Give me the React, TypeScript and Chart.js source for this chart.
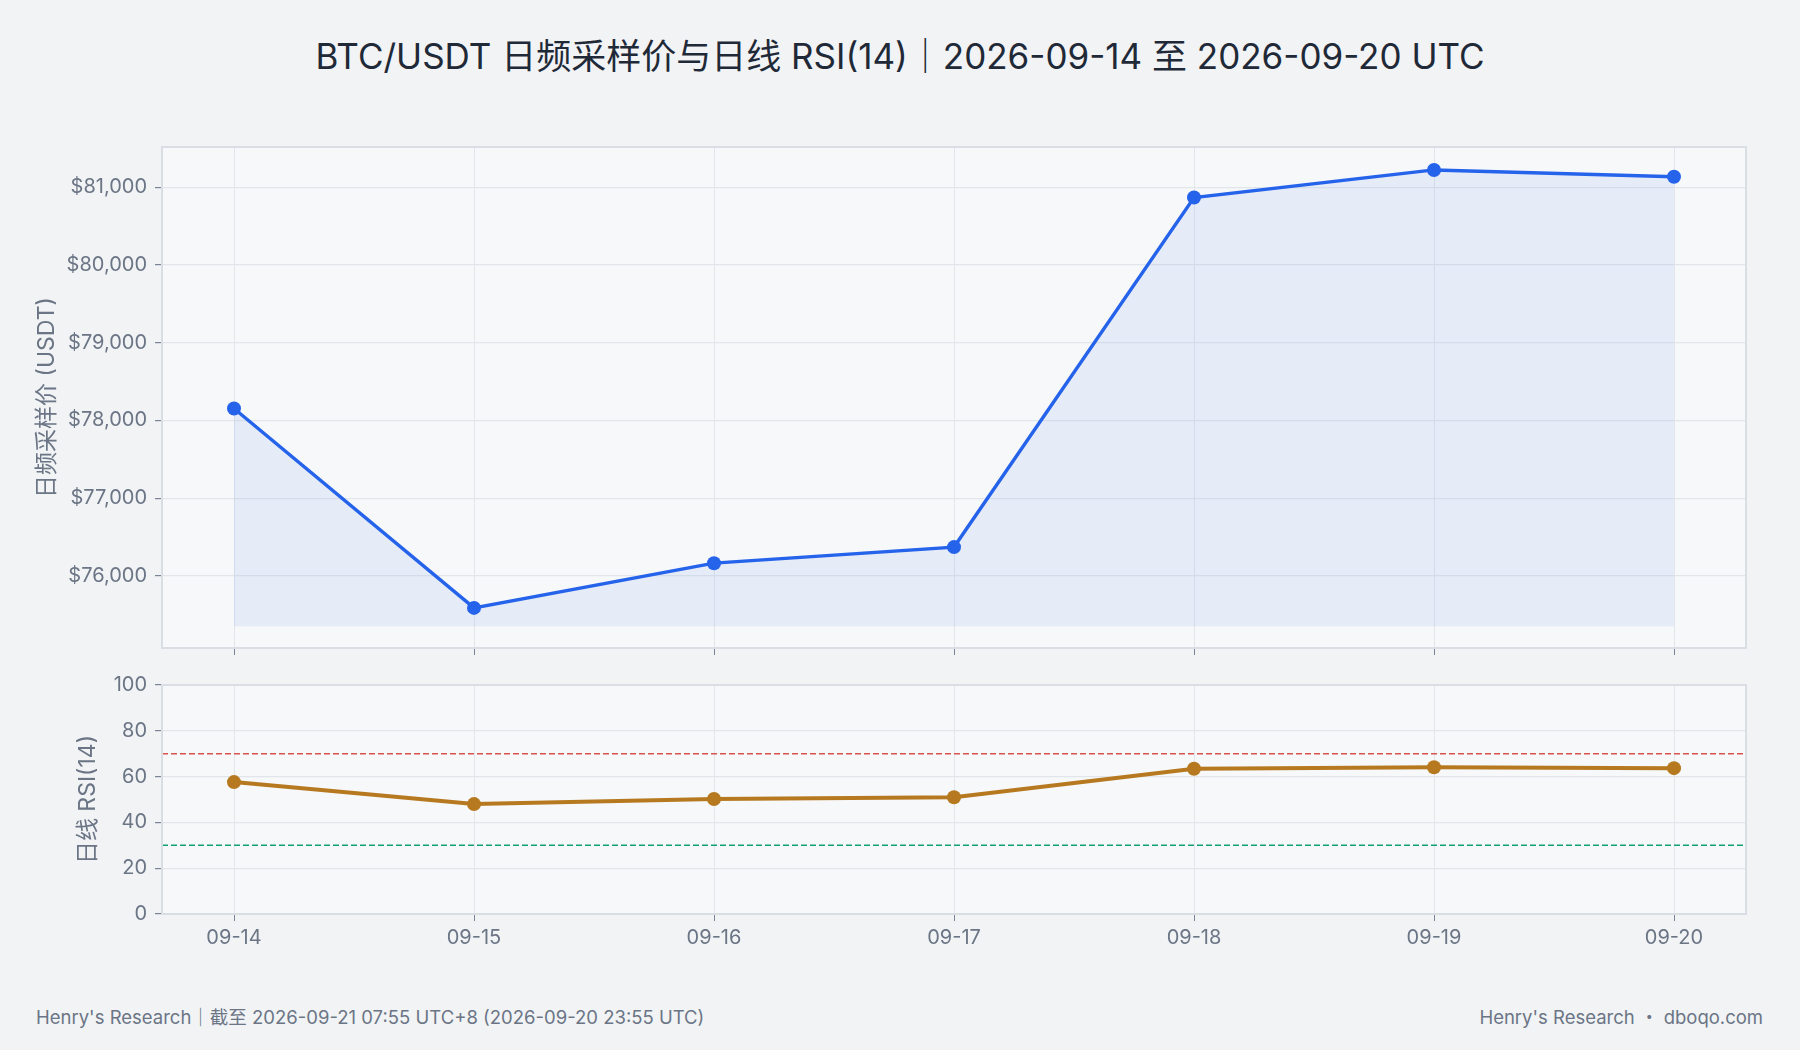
import React, { useEffect, useRef } from "react";
import { Chart, registerables } from "chart.js";

Chart.register(...registerables);

// ---------- data ----------
const dates = ["09-14", "09-15", "09-16", "09-17", "09-18", "09-19", "09-20"];
const prices = [78153, 75588, 76163, 76370, 80866, 81221, 81133];
const rsiValues = [57.6, 48.0, 50.2, 51.0, 63.4, 64.1, 63.7];
const priceTicks = [76000, 77000, 78000, 79000, 80000, 81000];
const rsiTicks = [0, 20, 40, 60, 80, 100];
const rsiLevels = [70, 30];
const rsiLevelColors = ["#d9534f", "#12a072"];
const priceFillBase = 75352;
const priceMin = 75072;
const priceMax = 81516;
const rsiMin = 0;
const rsiMax = 100;
const xMin = -0.3;
const xMax = 6.3;

const titleText = "BTC/USDT 日频采样价与日线 RSI(14)｜2026-09-14 至 2026-09-20 UTC";
const priceAxisTitle = "日频采样价 (USDT)";
const rsiAxisTitle = "日线 RSI(14)";
const footerLeft = "Henry's Research｜截至 2026-09-21 07:55 UTC+8 (2026-09-20 23:55 UTC)";
const footerRight = "Henry's Research ・ dboqo.com";

// ---------- styles ----------
const FONT = "Inter, 'Noto Sans CJK SC', 'Noto Sans', sans-serif";
const PAGE_BG = "#f1f3f5";
const PLOT_BG = "#f6f8fa";
const GRID = "#e2e6eb";
const BORDER = "#d9dee5";
const TICK_MARK = "#7b8494";
const TEXT = "#6b7585";
const BLUE = "#2563eb";
const AMBER = "#b7791f";

const plotFrame = {
  id: "plotFrame",
  beforeDraw(chart: any) {
    const { ctx, chartArea: a } = chart;
    ctx.save();
    ctx.fillStyle = PLOT_BG;
    ctx.fillRect(a.left, a.top, a.right - a.left, a.bottom - a.top);
    ctx.restore();
  },
  afterDraw(chart: any) {
    const { ctx, chartArea: a } = chart;
    ctx.save();
    ctx.strokeStyle = BORDER;
    ctx.lineWidth = 2;
    ctx.strokeRect(a.left, a.top, a.right - a.left, a.bottom - a.top);
    ctx.restore();
  },
};

const levelLines = {
  id: "levelLines",
  beforeDatasetsDraw(chart: any) {
    const { ctx, chartArea: a } = chart;
    const y = chart.scales.y;
    ctx.save();
    ctx.lineWidth = 1.6;
    ctx.setLineDash([6, 3]);
    rsiLevels.forEach((lv, i) => {
      const py = y.getPixelForValue(lv);
      ctx.strokeStyle = rsiLevelColors[i];
      ctx.beginPath();
      ctx.moveTo(a.left, py);
      ctx.lineTo(a.right, py);
      ctx.stroke();
    });
    ctx.restore();
  },
};

const tickFont = { family: FONT, size: 20 };
const axisTitleFont = { family: FONT, size: 23 };

function xAxis(showLabels: boolean, height: number) {
  return {
    type: "linear",
    min: xMin,
    max: xMax,
    ticks: {
      display: showLabels,
      autoSkip: false,
      maxRotation: 0,
      padding: 5,
      color: TEXT,
      font: tickFont,
      callback: (v: any) => dates[Math.round(Number(v))] ?? "",
    },
    afterBuildTicks: (s: any) => {
      s.ticks = dates.map((_, i) => ({ value: i }));
    },
    grid: { color: GRID, tickColor: TICK_MARK, tickLength: 7, lineWidth: 1 },
    border: { display: false },
    afterFit: (s: any) => {
      s.height = height;
    },
  };
}

function PriceChart() {
  const ref = useRef<HTMLCanvasElement>(null);
  useEffect(() => {
    const chart = new Chart(ref.current as HTMLCanvasElement, {
      type: "line",
      data: {
        datasets: [
          {
            data: prices.map((p, i) => ({ x: i, y: p })),
            borderColor: BLUE,
            borderWidth: 3.4,
            backgroundColor: "rgba(37,99,235,0.08)",
            fill: { value: priceFillBase },
            pointRadius: 7,
            pointBackgroundColor: BLUE,
            pointBorderColor: BLUE,
            pointBorderWidth: 0,
            tension: 0,
          },
        ],
      },
      options: {
        animation: false,
        responsive: false,
        devicePixelRatio: 1,
        layout: { padding: { top: 147, left: 29, right: 54, bottom: 0 } },
        plugins: { legend: { display: false }, tooltip: { enabled: false }, title: { display: false } },
        scales: {
          x: xAxis(false, 32) as any,
          y: {
            min: priceMin,
            max: priceMax,
            ticks: {
              padding: 8,
              color: TEXT,
              font: tickFont,
              callback: (v: any) => "$" + Number(v).toLocaleString("en-US"),
            },
            afterBuildTicks: (s: any) => {
              s.ticks = priceTicks.map((v) => ({ value: v }));
            },
            grid: { color: GRID, tickColor: TICK_MARK, tickLength: 7, lineWidth: 1.2 },
            border: { display: false },
            title: {
              display: true,
              text: priceAxisTitle,
              color: TEXT,
              font: axisTitleFont,
              padding: { top: 4, bottom: 4 },
            },
            afterFit: (s: any) => {
              s.width = 133;
            },
          },
        },
      },
      plugins: [plotFrame],
    } as any);
    return () => chart.destroy();
  }, []);
  return (
    <canvas
      ref={ref}
      width={1800}
      height={680}
      style={{ position: "absolute", left: 0, top: 0, width: 1800, height: 680 }}
    />
  );
}

function RsiChart() {
  const ref = useRef<HTMLCanvasElement>(null);
  useEffect(() => {
    const chart = new Chart(ref.current as HTMLCanvasElement, {
      type: "line",
      data: {
        datasets: [
          {
            data: rsiValues.map((r, i) => ({ x: i, y: r })),
            borderColor: AMBER,
            borderWidth: 4,
            fill: false,
            pointRadius: 7,
            pointBackgroundColor: AMBER,
            pointBorderColor: AMBER,
            pointBorderWidth: 0,
            tension: 0,
          },
        ],
      },
      options: {
        animation: false,
        responsive: false,
        devicePixelRatio: 1,
        layout: { padding: { top: 25, left: 70, right: 54, bottom: 0 } },
        plugins: { legend: { display: false }, tooltip: { enabled: false }, title: { display: false } },
        scales: {
          x: xAxis(true, 46) as any,
          y: {
            min: rsiMin,
            max: rsiMax,
            ticks: {
              padding: 8,
              color: TEXT,
              font: tickFont,
            },
            afterBuildTicks: (s: any) => {
              s.ticks = rsiTicks.map((v) => ({ value: v }));
            },
            grid: { color: GRID, tickColor: TICK_MARK, tickLength: 7, lineWidth: 1.2 },
            border: { display: false },
            title: {
              display: true,
              text: rsiAxisTitle,
              color: TEXT,
              font: axisTitleFont,
              padding: { top: 4, bottom: 4 },
            },
            afterFit: (s: any) => {
              s.width = 92;
            },
          },
        },
      },
      plugins: [plotFrame, levelLines],
    } as any);
    return () => chart.destroy();
  }, []);
  return (
    <canvas
      ref={ref}
      width={1800}
      height={300}
      style={{ position: "absolute", left: 0, top: 660, width: 1800, height: 300 }}
    />
  );
}

export default function App() {
  return (
    <div
      style={{
        position: "absolute",
        left: 0,
        top: 0,
        width: 1800,
        height: 1050,
        background: PAGE_BG,
        overflow: "hidden",
        fontFamily: FONT,
      }}
    >
      <div
        style={{
          position: "absolute",
          left: 0,
          top: 36,
          width: 1800,
          lineHeight: "40px",
          textAlign: "center",
          fontSize: 35,
          color: "#1f2937",
          whiteSpace: "nowrap",
        }}
      >
        {titleText}
      </div>
      <PriceChart />
      <RsiChart />
      <div
        style={{
          position: "absolute",
          left: 36,
          top: 1005,
          lineHeight: "24px",
          fontSize: 18.5,
          color: TEXT,
          whiteSpace: "nowrap",
        }}
      >
        {footerLeft}
      </div>
      <div
        style={{
          position: "absolute",
          right: 37,
          top: 1005,
          lineHeight: "24px",
          fontSize: 18.5,
          color: TEXT,
          whiteSpace: "nowrap",
        }}
      >
        {footerRight}
      </div>
    </div>
  );
}
